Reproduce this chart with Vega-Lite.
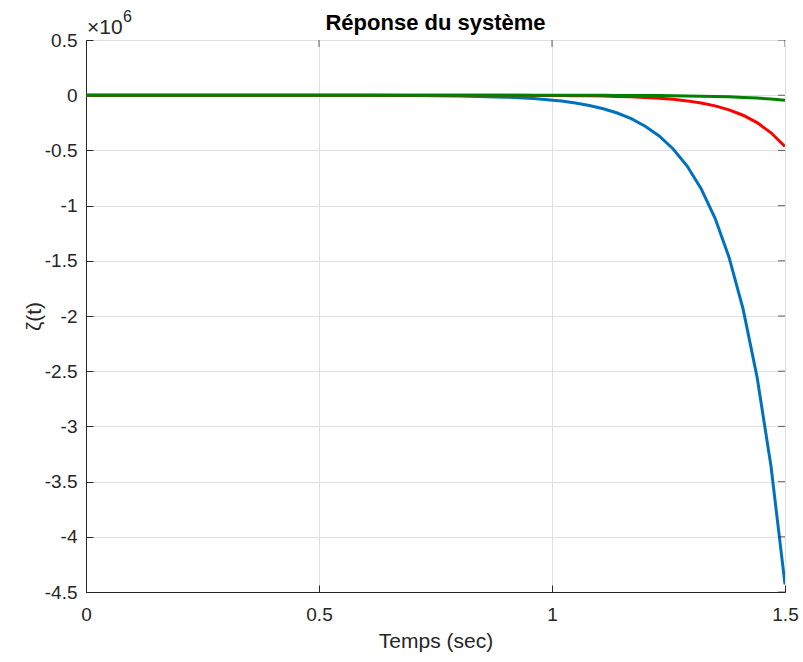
{
  "$schema": "https://vega.github.io/schema/vega-lite/v6.json",
  "width": 699,
  "height": 552,
  "autosize": {"type": "none"},
  "padding": {"left": 86, "top": 40, "right": 18, "bottom": 70},
  "background": "white",
  "config": {
    "locale": {"number": {"decimal": ".", "thousands": ",", "grouping": [3], "currency": ["$", ""], "minus": "-"}},
    "font": "Liberation Sans",
    "view": {"stroke": "#262626", "strokeWidth": 1},
    "axis": {
      "domainColor": "#262626",
      "tickColor": "#262626",
      "tickSize": -7,
      "labelColor": "#262626",
      "labelFont": "Liberation Sans",
      "labelFontSize": 19,
      "labelFlush": false,
      "labelOverlap": false,
      "titleFont": "Liberation Sans",
      "titleFontSize": 21,
      "titleFontWeight": "normal",
      "titleColor": "#262626",
      "gridColor": "#dfdfdf",
      "gridWidth": 1
    }
  },
  "title": {
    "text": "Réponse du système",
    "font": "Liberation Sans",
    "fontSize": 22,
    "fontWeight": "bold",
    "color": "#000000",
    "anchor": "middle",
    "offset": -26
  },
  "datasets": {
    "resp": [
      {"t": 0, "v": -0.0000045, "s": "s1"},
      {"t": 0.1, "v": -0.0000113, "s": "s1"},
      {"t": 0.2, "v": -0.0000283, "s": "s1"},
      {"t": 0.3, "v": -0.0000711, "s": "s1"},
      {"t": 0.4, "v": -0.000178, "s": "s1"},
      {"t": 0.5, "v": -0.000448, "s": "s1"},
      {"t": 0.6, "v": -0.00112, "s": "s1"},
      {"t": 0.7, "v": -0.00282, "s": "s1"},
      {"t": 0.8, "v": -0.00709, "s": "s1"},
      {"t": 0.9, "v": -0.01775, "s": "s1"},
      {"t": 0.93, "v": -0.0234, "s": "s1"},
      {"t": 0.96, "v": -0.0308, "s": "s1"},
      {"t": 0.99, "v": -0.0406, "s": "s1"},
      {"t": 1.02, "v": -0.0535, "s": "s1"},
      {"t": 1.05, "v": -0.0705, "s": "s1"},
      {"t": 1.08, "v": -0.093, "s": "s1"},
      {"t": 1.11, "v": -0.1225, "s": "s1"},
      {"t": 1.14, "v": -0.1615, "s": "s1"},
      {"t": 1.17, "v": -0.2128, "s": "s1"},
      {"t": 1.2, "v": -0.2804, "s": "s1"},
      {"t": 1.23, "v": -0.3695, "s": "s1"},
      {"t": 1.26, "v": -0.487, "s": "s1"},
      {"t": 1.29, "v": -0.642, "s": "s1"},
      {"t": 1.32, "v": -0.846, "s": "s1"},
      {"t": 1.35, "v": -1.115, "s": "s1"},
      {"t": 1.38, "v": -1.469, "s": "s1"},
      {"t": 1.41, "v": -1.936, "s": "s1"},
      {"t": 1.44, "v": -2.551, "s": "s1"},
      {"t": 1.47, "v": -3.362, "s": "s1"},
      {"t": 1.5, "v": -4.431, "s": "s1"},
      {"t": 0, "v": 0, "s": "s2"},
      {"t": 0.5, "v": -0.000013, "s": "s2"},
      {"t": 0.6, "v": -0.000037, "s": "s2"},
      {"t": 0.7, "v": -0.000105, "s": "s2"},
      {"t": 0.8, "v": -0.0003, "s": "s2"},
      {"t": 0.9, "v": -0.000857, "s": "s2"},
      {"t": 0.93, "v": -0.00117, "s": "s2"},
      {"t": 0.96, "v": -0.00161, "s": "s2"},
      {"t": 0.99, "v": -0.0022, "s": "s2"},
      {"t": 1.02, "v": -0.00302, "s": "s2"},
      {"t": 1.05, "v": -0.00414, "s": "s2"},
      {"t": 1.08, "v": -0.00567, "s": "s2"},
      {"t": 1.11, "v": -0.00777, "s": "s2"},
      {"t": 1.14, "v": -0.01065, "s": "s2"},
      {"t": 1.17, "v": -0.0146, "s": "s2"},
      {"t": 1.2, "v": -0.02, "s": "s2"},
      {"t": 1.23, "v": -0.0274, "s": "s2"},
      {"t": 1.26, "v": -0.0375, "s": "s2"},
      {"t": 1.29, "v": -0.0515, "s": "s2"},
      {"t": 1.32, "v": -0.0705, "s": "s2"},
      {"t": 1.35, "v": -0.0966, "s": "s2"},
      {"t": 1.38, "v": -0.1324, "s": "s2"},
      {"t": 1.41, "v": -0.1814, "s": "s2"},
      {"t": 1.44, "v": -0.2486, "s": "s2"},
      {"t": 1.47, "v": -0.3406, "s": "s2"},
      {"t": 1.5, "v": -0.465, "s": "s2"},
      {"t": 0, "v": 0, "s": "s3"},
      {"t": 0.5, "v": -0.0000046, "s": "s3"},
      {"t": 0.6, "v": -0.0000114, "s": "s3"},
      {"t": 0.7, "v": -0.0000288, "s": "s3"},
      {"t": 0.8, "v": -0.0000723, "s": "s3"},
      {"t": 0.9, "v": -0.00018, "s": "s3"},
      {"t": 0.93, "v": -0.00024, "s": "s3"},
      {"t": 0.96, "v": -0.00031, "s": "s3"},
      {"t": 0.99, "v": -0.00041, "s": "s3"},
      {"t": 1.02, "v": -0.00055, "s": "s3"},
      {"t": 1.05, "v": -0.00072, "s": "s3"},
      {"t": 1.08, "v": -0.00095, "s": "s3"},
      {"t": 1.11, "v": -0.00125, "s": "s3"},
      {"t": 1.14, "v": -0.00165, "s": "s3"},
      {"t": 1.17, "v": -0.00217, "s": "s3"},
      {"t": 1.2, "v": -0.00286, "s": "s3"},
      {"t": 1.23, "v": -0.00377, "s": "s3"},
      {"t": 1.26, "v": -0.00497, "s": "s3"},
      {"t": 1.29, "v": -0.00655, "s": "s3"},
      {"t": 1.32, "v": -0.00863, "s": "s3"},
      {"t": 1.35, "v": -0.01137, "s": "s3"},
      {"t": 1.38, "v": -0.01498, "s": "s3"},
      {"t": 1.41, "v": -0.01975, "s": "s3"},
      {"t": 1.44, "v": -0.02602, "s": "s3"},
      {"t": 1.47, "v": -0.03429, "s": "s3"},
      {"t": 1.5, "v": -0.0452, "s": "s3"}
    ],
    "xticks": [{"t": 0}, {"t": 0.5}, {"t": 1}, {"t": 1.5}],
    "yticks": [{"v": -4.5}, {"v": -4}, {"v": -3.5}, {"v": -3}, {"v": -2.5}, {"v": -2}, {"v": -1.5}, {"v": -1}, {"v": -0.5}, {"v": 0}, {"v": 0.5}],
    "corner": [{"label": "×10", "exp": "6"}]
  },
  "layer": [
    {
      "data": {"name": "resp"},
      "mark": {"type": "line", "strokeWidth": 3, "clip": true},
      "encoding": {
        "x": {
          "field": "t",
          "type": "quantitative",
          "scale": {"domain": [0, 1.5], "nice": false, "zero": false},
          "axis": {"title": "Temps (sec)", "values": [0, 0.5, 1, 1.5], "format": "~g", "labelPadding": 20, "titlePadding": 6, "grid": true}
        },
        "y": {
          "field": "v",
          "type": "quantitative",
          "scale": {"domain": [-4.5, 0.5], "nice": false, "zero": false},
          "axis": {"title": "ζ(t)", "values": [-4.5, -4, -3.5, -3, -2.5, -2, -1.5, -1, -0.5, 0, 0.5], "format": ".1~f", "labelPadding": 16, "titlePadding": 0, "grid": true}
        },
        "color": {
          "field": "s",
          "type": "nominal",
          "scale": {"domain": ["s1", "s2", "s3"], "range": ["#0072BD", "#FF0000", "#008000"]},
          "legend": null
        }
      }
    },
    {
      "data": {"name": "xticks"},
      "mark": {"type": "tick", "orient": "vertical", "size": 14, "thickness": 1, "color": "#262626", "clip": true},
      "encoding": {
        "x": {"field": "t", "type": "quantitative"},
        "y": {"datum": 0.5, "type": "quantitative"}
      }
    },
    {
      "data": {"name": "yticks"},
      "mark": {"type": "tick", "orient": "horizontal", "size": 14, "thickness": 1, "color": "#262626", "clip": true},
      "encoding": {
        "y": {"field": "v", "type": "quantitative"},
        "x": {"datum": 1.5, "type": "quantitative"}
      }
    },
    {
      "data": {"name": "corner"},
      "mark": {"type": "text", "align": "left", "baseline": "alphabetic", "fontSize": 21, "color": "#262626", "dx": 1, "dy": -6},
      "encoding": {
        "text": {"field": "label"},
        "x": {"datum": 0, "type": "quantitative"},
        "y": {"datum": 0.5, "type": "quantitative"}
      }
    },
    {
      "data": {"name": "corner"},
      "mark": {"type": "text", "align": "left", "baseline": "alphabetic", "fontSize": 16, "color": "#262626", "dx": 37, "dy": -18},
      "encoding": {
        "text": {"field": "exp"},
        "x": {"datum": 0, "type": "quantitative"},
        "y": {"datum": 0.5, "type": "quantitative"}
      }
    }
  ]
}
